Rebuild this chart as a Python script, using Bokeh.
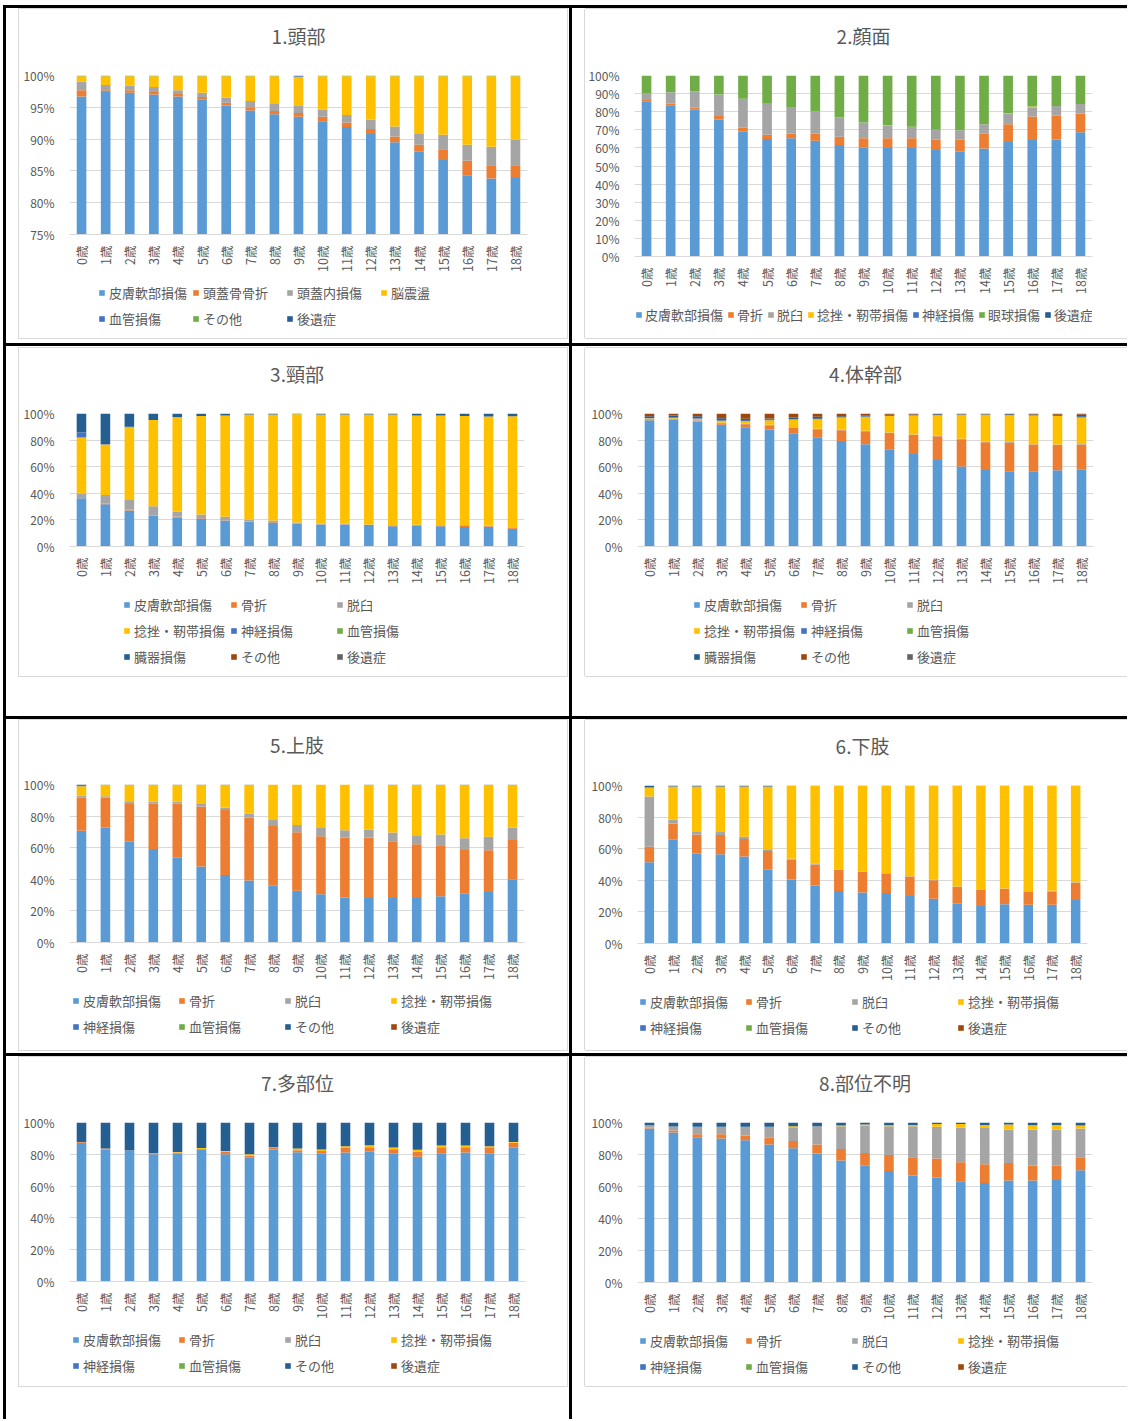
import math
from bokeh.plotting import figure
from bokeh.models import (ColumnDataSource, FactorRange, Range1d, FixedTicker, Legend, LegendItem,
                          Spacer, Label)
from bokeh.layouts import row, column
from bokeh.embed import file_html
from bokeh.resources import INLINE

FONT = "Noto Sans CJK JP"
TEXT = "#595959"
GRID = "#D9D9D9"

ages = ["0歳", "1歳", "2歳", "3歳", "4歳", "5歳", "6歳", "7歳", "8歳", "9歳",
        "10歳", "11歳", "12歳", "13歳", "14歳", "15歳", "16歳", "17歳", "18歳"]

zeros = [0, 0, 0, 0, 0, 0, 0, 0, 0, 0, 0, 0, 0, 0, 0, 0, 0, 0, 0]

BLUE, ORANGE, GRAY, GOLD = "#5B9BD5", "#ED7D31", "#A5A5A5", "#FFC000"
DBLUE, GREEN, NAVY, BROWN, DGRAY = "#4472C4", "#70AD47", "#255E91", "#9E480E", "#636363"

# ---------- 1.頭部 (%) ----------
h_names = ["皮膚軟部損傷", "頭蓋骨骨折", "頭蓋内損傷", "脳震盪", "血管損傷", "その他", "後遺症"]
h_skin = [96.7, 97.4, 97.3, 97.0, 96.7, 96.2, 95.3, 94.5, 93.9, 93.5, 92.8, 91.9, 90.8, 89.5, 88.0, 86.7, 84.3, 83.8, 83.9]
h_skullfx = [1.0, 0.3, 0.4, 0.4, 0.4, 0.4, 0.4, 0.5, 0.5, 0.6, 0.7, 0.7, 0.8, 0.9, 1.1, 1.7, 2.3, 2.1, 2.0]
h_intra = [1.3, 0.8, 0.7, 0.8, 0.6, 0.7, 0.8, 1.0, 1.1, 1.1, 1.1, 1.2, 1.5, 1.6, 1.7, 2.3, 2.5, 2.9, 4.0]
h_concussion = [0.9, 1.4, 1.5, 1.7, 2.2, 2.6, 3.4, 3.9, 4.4, 4.6, 5.3, 6.1, 6.8, 7.9, 9.1, 9.2, 10.8, 11.1, 10.0]
h_vasc = [0, 0, 0, 0, 0, 0, 0, 0, 0, 0.2, 0, 0, 0, 0, 0, 0, 0, 0, 0]
h_other = [0.1, 0.1, 0.1, 0.1, 0.1, 0.1, 0.1, 0.1, 0.1, 0, 0.1, 0.1, 0.1, 0.1, 0.1, 0.1, 0.1, 0.1, 0.1]
h_seq = zeros

# ---------- 2.顔面 ----------
f_names = ["皮膚軟部損傷", "骨折", "脱臼", "捻挫・靭帯損傷", "神経損傷", "眼球損傷", "後遺症"]
f_skin = [85.8, 83.6, 81.1, 75.7, 68.9, 64.9, 65.3, 64.0, 61.6, 60.1, 59.9, 59.9, 58.8, 57.9, 59.7, 63.2, 64.3, 64.7, 68.6]
f_fx = [0.6, 0.8, 1.1, 1.9, 2.2, 2.4, 2.7, 3.8, 4.6, 5.2, 5.4, 5.4, 5.7, 6.6, 8.1, 9.8, 13.1, 13.1, 10.4]
f_disl = [4.0, 6.4, 9.0, 11.9, 16.0, 17.1, 14.2, 12.5, 10.6, 8.8, 6.8, 6.4, 5.5, 5.2, 5.2, 5.7, 5.0, 5.3, 5.2]
f_sprain = [0, 0, 0, 0, 0, 0, 0, 0, 0, 0, 0.5, 0, 0, 0, 0, 0.4, 0.5, 0, 0]
f_nerve = zeros
f_eye = [9.6, 9.2, 8.8, 10.5, 12.9, 15.6, 17.8, 19.7, 23.2, 25.9, 27.4, 28.3, 30.0, 30.3, 27.0, 20.9, 17.1, 16.9, 15.8]
f_seq = zeros

# ---------- 3.頸部 ----------
n_names = ["皮膚軟部損傷", "骨折", "脱臼", "捻挫・靭帯損傷", "神経損傷", "血管損傷", "臓器損傷", "その他", "後遺症"]
n_skin = [36.2, 31.7, 27.1, 22.9, 21.6, 21.1, 19.1, 18.6, 18.1, 17.3, 16.6, 16.6, 16.1, 15.3, 15.8, 15.3, 14.6, 14.6, 13.3]
n_fx = [0.0, 0.7, 0.8, 0.2, 1.0, 0.3, 0.3, 0.2, 0.3, 0.2, 0.2, 0.2, 0.2, 0.5, 0.3, 0.5, 1.2, 0.7, 0.8]
n_disl = [3.2, 6.3, 7.0, 7.1, 3.5, 2.7, 3.0, 1.3, 1.2, 0.6, 0.5, 0.3, 0.3, 0.3, 0.3, 0.3, 0.3, 0.5, 0.3]
n_sprain = [42.5, 37.9, 54.8, 65.0, 71.1, 74.1, 76.1, 79.1, 79.6, 81.4, 81.9, 82.1, 82.6, 83.1, 82.1, 82.4, 82.1, 81.9, 83.6]
n_nerve = [3.8, 0.2, 0.3, 0, 0.2, 0, 0, 0, 0, 0, 0, 0, 0, 0, 0, 0, 0, 0, 0]
n_vasc = [0, 0, 0, 0, 0, 0, 0, 0, 0, 0.2, 0, 0, 0, 0, 0, 0, 0, 0, 0]
n_organ = [14.3, 23.2, 10.0, 4.8, 2.5, 1.6, 1.3, 0.8, 0.8, 0.3, 0.8, 0.8, 0.8, 0.8, 1.5, 1.5, 1.8, 2.3, 2.0]
n_other = [0, 0, 0, 0, 0.1, 0.2, 0.2, 0, 0, 0, 0, 0, 0, 0, 0, 0, 0, 0, 0]
n_seq = zeros

# ---------- 4.体幹部 ----------
t_names = n_names
t_skin = [95.0, 95.5, 94.0, 91.5, 89.7, 87.9, 85.2, 82.2, 79.4, 76.9, 73.1, 69.6, 65.1, 60.1, 57.5, 56.5, 56.5, 57.3, 58.0]
t_fx = [0.6, 0.6, 0.8, 1.2, 2.3, 3.3, 4.2, 6.0, 8.0, 9.8, 12.3, 14.3, 17.8, 20.6, 20.9, 21.6, 20.1, 19.1, 18.6]
t_disl = [0.4, 0.2, 0.3, 0.4, 0.3, 0.3, 0.3, 0.3, 0.3, 0.3, 0.4, 0.3, 0.3, 0.3, 0.3, 0.5, 0.3, 0.3, 0.4]
t_sprain = [0.4, 0.4, 1.0, 1.4, 1.9, 3.5, 5.8, 7.2, 9.3, 10.5, 12.4, 14.3, 15.5, 18.0, 20.3, 20.1, 21.6, 21.5, 20.0]
t_nerve = [0.3, 0.3, 0.4, 0.3, 0.3, 0.3, 0.3, 0.3, 0.2, 0.2, 0.2, 0.2, 0.2, 0.1, 0.1, 0.1, 0.1, 0.1, 0.5]
t_vasc = zeros
t_organ = [1.3, 1.5, 1.5, 1.7, 1.5, 1.0, 1.2, 1.5, 0.8, 0.7, 0.6, 0.5, 0.5, 0.3, 0.3, 0.6, 0.7, 0.8, 1.5]
t_other = [2.0, 1.5, 2.0, 3.5, 4.0, 3.7, 3.0, 2.5, 2.0, 1.6, 1.0, 0.8, 0.6, 0.3, 0.3, 0.6, 0.7, 0.9, 1.0]
t_seq = [0, 0, 0, 0, 0, 0, 0, 0, 0, 0, 0, 0, 0, 0.3, 0.3, 0, 0, 0, 0]

# ---------- 5.上肢 ----------
u_names = ["皮膚軟部損傷", "骨折", "脱臼", "捻挫・靭帯損傷", "神経損傷", "血管損傷", "その他", "後遺症"]
u_skin = [70.7, 72.8, 63.7, 59.1, 53.6, 48.1, 42.8, 39.2, 35.9, 32.7, 30.6, 28.5, 28.1, 28.1, 28.1, 29.3, 30.8, 31.9, 39.7]
u_fx = [20.9, 18.8, 23.9, 28.9, 34.4, 38.0, 41.0, 39.7, 37.9, 37.1, 36.7, 38.0, 38.4, 36.0, 34.1, 32.3, 27.8, 26.5, 25.1]
u_disl = [1.4, 1.0, 1.4, 1.2, 1.2, 1.5, 1.6, 2.7, 3.8, 4.5, 5.1, 4.6, 5.0, 5.5, 5.7, 6.8, 7.4, 8.5, 8.0]
u_sprain = [5.9, 7.2, 10.8, 10.6, 10.6, 12.2, 14.4, 18.2, 22.4, 25.7, 27.6, 28.9, 28.3, 30.2, 31.9, 31.4, 33.8, 32.9, 27.0]
u_nerve = [0.3, 0, 0, 0, 0, 0, 0, 0, 0, 0, 0, 0, 0, 0, 0, 0, 0, 0, 0]
u_vasc = zeros
u_other = [0.8, 0.2, 0.2, 0.2, 0.2, 0.2, 0.2, 0.2, 0, 0, 0, 0, 0.2, 0.2, 0.2, 0.2, 0.2, 0.2, 0.2]
u_seq = zeros

# ---------- 6.下肢 ----------
l_names = u_names
l_skin = [51.5, 65.6, 56.8, 56.5, 55.1, 46.6, 40.5, 36.7, 33.3, 32.3, 31.9, 30.0, 28.3, 25.1, 23.8, 24.9, 24.5, 24.5, 27.6]
l_fx = [9.7, 10.3, 12.2, 12.1, 11.1, 12.0, 12.5, 13.3, 13.3, 13.1, 12.4, 12.4, 11.8, 10.8, 10.2, 9.7, 8.4, 8.4, 10.8]
l_disl = [31.8, 2.4, 1.5, 1.9, 1.3, 1.1, 0.6, 0.4, 0.2, 0.2, 0.3, 0.2, 0.2, 0.2, 0.3, 0.2, 0.4, 0.5, 0.4]
l_sprain = [5.7, 21.1, 28.9, 28.9, 31.9, 39.7, 46.2, 49.4, 53.0, 54.2, 55.2, 57.2, 59.5, 63.7, 65.5, 65.0, 66.5, 66.4, 61.0]
l_nerve = zeros
l_vasc = zeros
l_other = [1.3, 0.6, 0.6, 0.6, 0.6, 0.6, 0.2, 0.2, 0.2, 0.2, 0.2, 0.2, 0.2, 0.2, 0.2, 0.2, 0.2, 0.2, 0.2]
l_seq = zeros

# ---------- 7.多部位 ----------
m_names = u_names
m_skin = [87.2, 83.0, 82.2, 80.1, 80.7, 82.8, 80.1, 78.2, 83.0, 81.3, 80.3, 81.1, 81.6, 80.3, 78.4, 80.7, 81.1, 80.3, 84.1]
m_fx = [0.6, 0.6, 0.1, 0.4, 0.4, 0.5, 1.7, 1.0, 1.1, 1.3, 1.7, 2.8, 2.9, 2.9, 3.2, 3.8, 3.4, 4.2, 3.1]
m_disl = [0, 0, 0.1, 0, 0, 0, 0, 0, 0.2, 0, 0, 0, 0, 0, 0, 0, 0, 0, 0]
m_sprain = [0, 0, 0, 0.2, 0.3, 0.6, 0.2, 0.9, 0.2, 1.0, 1.0, 1.2, 1.2, 1.1, 1.2, 1.0, 1.0, 0.6, 0.6]
m_nerve = zeros
m_vasc = zeros
m_other = [12.2, 16.4, 17.6, 19.3, 18.6, 16.1, 18.0, 19.9, 15.5, 16.4, 17.0, 14.9, 14.3, 15.7, 17.2, 14.5, 14.5, 14.9, 12.2]
m_seq = zeros

# ---------- 8.部位不明 ----------
x_names = u_names
x_skin = [96.2, 93.7, 90.8, 90.0, 88.9, 86.2, 83.9, 80.6, 76.2, 72.9, 69.7, 66.8, 65.6, 63.3, 62.2, 63.7, 63.7, 64.1, 70.1]
x_fx = [0.7, 1.3, 1.9, 2.7, 3.0, 4.2, 4.6, 5.6, 7.3, 8.1, 10.0, 11.5, 11.9, 11.9, 11.7, 11.0, 9.4, 9.0, 8.2]
x_disl = [1.4, 2.5, 4.6, 4.6, 5.4, 6.9, 8.6, 11.5, 14.2, 17.1, 18.0, 19.4, 19.8, 21.7, 22.6, 20.9, 22.3, 22.5, 17.9]
x_sprain = [0, 0, 0, 0, 0, 0, 0.6, 0, 0.4, 0.6, 0.6, 0.8, 1.7, 2.1, 2.0, 3.1, 2.9, 2.9, 1.9]
x_nerve = zeros
x_vasc = zeros
x_other = [1.7, 2.5, 2.7, 2.7, 2.7, 2.7, 2.3, 2.3, 1.9, 1.3, 1.7, 1.5, 1.0, 1.0, 1.5, 1.3, 1.7, 1.5, 1.9]
x_seq = zeros

ticks_25 = [75, 80, 85, 90, 95, 100]
ticks_10 = [0, 10, 20, 30, 40, 50, 60, 70, 80, 90, 100]
ticks_20 = [0, 20, 40, 60, 80, 100]

SHADOW_L = "0 0 0 1px #D9D9D9"
SHADOW_R = "-1px 0 0 0 #D9D9D9, 0 -1px 0 0 #D9D9D9, 0 1px 0 0 #D9D9D9"

AXIS_BAND = 40      # space kept under the plot area for the rotated age labels
ITEM_H = 21
ITEM_GAP = 5
TITLE_H = 50        # height of the title strip above each chart
TITLE_GAP = 40      # title centre above the plot area, px


def strip(w, h):
    s = figure(width=w, height=h, x_range=Range1d(0, 1), y_range=Range1d(0, 1),
               output_backend="svg", toolbar_location=None, tools="",
               x_axis_type=None, y_axis_type=None, min_border=0,
               min_border_left=0, min_border_right=0, min_border_top=0, min_border_bottom=0)
    s.grid.visible = False
    s.outline_line_color = None
    s.background_fill_color = "white"
    s.border_fill_color = "white"
    return s


def panel(title, names, values, colors, yticks, ystart, w, frame_h, top, plot_h, left, right,
          outer_margin, shadow, leg_x, ncols, label_width, spacing=ITEM_GAP, standoff=4):
    # title strip
    tf = strip(w, TITLE_H)
    tf.add_layout(Label(x=0.5, y=1 - (top - TITLE_GAP) / TITLE_H, text=title, text_align="center",
                        text_baseline="middle", text_font=FONT, text_font_size="19px",
                        text_color=TEXT))

    data = {"age": ages}
    keys = []
    for i, v in enumerate(values):
        data["s%d" % i] = v
        keys.append("s%d" % i)
    src = ColumnDataSource(data)
    ptop = top - TITLE_H
    chart_h = ptop + plot_h + AXIS_BAND
    p = figure(x_range=FactorRange(factors=ages), y_range=Range1d(ystart, 100),
               width=w, height=chart_h, output_backend="svg", toolbar_location=None, tools="",
               min_border_top=ptop, min_border_bottom=AXIS_BAND, min_border_left=left,
               min_border_right=right)
    rs = p.vbar_stack(keys, x="age", width=0.4, source=src, fill_color=colors, line_color=None)
    p.background_fill_color = "white"
    p.border_fill_color = "white"
    p.outline_line_color = None

    p.xgrid.grid_line_color = None
    p.ygrid.grid_line_color = GRID
    p.yaxis.ticker = FixedTicker(ticks=yticks)
    p.yaxis.major_label_overrides = {t: "%d%%" % t for t in yticks}
    p.yaxis.axis_line_color = None
    p.yaxis.major_tick_line_color = None
    p.yaxis.minor_tick_line_color = None
    p.yaxis.major_label_standoff = 9
    p.yaxis.major_label_text_font = FONT
    p.yaxis.major_label_text_font_size = "12px"
    p.yaxis.major_label_text_color = TEXT

    p.xaxis.axis_line_color = GRID
    p.xaxis.major_tick_line_color = None
    p.xaxis.minor_tick_line_color = None
    p.xaxis.major_label_orientation = math.pi / 2
    p.xaxis.major_label_standoff = 5
    p.xaxis.major_label_text_font = FONT
    p.xaxis.major_label_text_font_size = "12.5px"
    p.xaxis.major_label_text_color = TEXT

    # legend strip under the chart (its frame lines up with the chart's plot area)
    leg_h = frame_h - TITLE_H - chart_h
    lf = strip(w, leg_h)
    items = []
    for n, c in zip(names, colors):
        # swatch-only renderer, kept outside the visible range
        r = lf.vbar(x=[-5], top=[-5], bottom=[-6], width=0.4, fill_color=c, line_color=None)
        items.append(LegendItem(label=n, renderers=[r]))
    cols = ncols if ncols else len(names)
    rows = -(-len(names) // cols)
    block_h = rows * ITEM_H + (rows - 1) * spacing
    first_top = 58 - AXIS_BAND - ITEM_H / 2.0
    leg_y = leg_h - first_top - block_h
    kw = {}
    if ncols:
        kw["ncols"] = ncols
    leg = Legend(items=items, orientation="horizontal", location=(leg_x, leg_y), margin=0, padding=0,
                 spacing=spacing, label_standoff=standoff, glyph_width=7, glyph_height=7,
                 label_width=label_width, label_height=ITEM_H,
                 label_text_font=FONT, label_text_font_size="13px", label_text_color=TEXT,
                 border_line_color=None, background_fill_alpha=0, **kw)
    lf.add_layout(leg, "center")

    inner = column(tf, p, lf, margin=outer_margin, styles={"box-shadow": shadow})
    return inner


c7a = [BLUE, ORANGE, GRAY, GOLD, DBLUE, GREEN, NAVY]
c9 = [BLUE, ORANGE, GRAY, GOLD, DBLUE, GREEN, NAVY, BROWN, DGRAY]
c8 = [BLUE, ORANGE, GRAY, GOLD, DBLUE, GREEN, NAVY, BROWN]

# (title, names, values, colours, yticks, ystart, width, frame_h, top, plot_h, left, right, margin, shadow, legend_x, ncols, label_width)
p1 = panel("1.頭部", h_names, [h_skin, h_skullfx, h_intra, h_concussion, h_vasc, h_other, h_seq], c7a,
           ticks_25, 75, 548, 329, 66, 159, 50, 40, (1, 2, 5, 13), SHADOW_L, 29, 4, 78)
p2 = panel("2.顔面", f_names, [f_skin, f_fx, f_disl, f_sprain, f_nerve, f_eye, f_seq], c7a,
           ticks_10, 0, 542, 329, 66, 181, 42, 35, (1, 0, 5, 13), SHADOW_R, 1, None, 20, 4, 3)
p3 = panel("3.頸部", n_names, [n_skin, n_fx, n_disl, n_sprain, n_nerve, n_vasc, n_organ, n_other, n_seq], c9,
           ticks_20, 0, 548, 328, 65, 133, 50, 43, (2, 2, 40, 13), SHADOW_L, 54, 3, 90)
p4 = panel("4.体幹部", t_names, [t_skin, t_fx, t_disl, t_sprain, t_nerve, t_vasc, t_organ, t_other, t_seq], c9,
           ticks_20, 0, 542, 328, 65, 133, 52, 34, (2, 0, 40, 13), SHADOW_R, 56, 3, 90)
p5 = panel("5.上肢", u_names, [u_skin, u_fx, u_disl, u_sprain, u_nerve, u_vasc, u_other, u_seq], c8,
           ticks_20, 0, 548, 330, 64, 158, 50, 43, (1, 2, 3, 13), SHADOW_L, 3, 4, 90)
p6 = panel("6.下肢", l_names, [l_skin, l_fx, l_disl, l_sprain, l_nerve, l_vasc, l_other, l_seq], c8,
           ticks_20, 0, 542, 330, 65, 158, 52, 40, (1, 0, 3, 13), SHADOW_R, 2, 4, 90)
p7 = panel("7.多部位", m_names, [m_skin, m_fx, m_disl, m_sprain, m_nerve, m_vasc, m_other, m_seq], c8,
           ticks_20, 0, 548, 329, 65, 159, 50, 42, (1, 2, 33, 13), SHADOW_L, 3, 4, 90)
p8 = panel("8.部位不明", x_names, [x_skin, x_fx, x_disl, x_sprain, x_nerve, x_vasc, x_other, x_seq], c8,
           ticks_20, 0, 542, 329, 65, 160, 52, 35, (1, 0, 33, 13), SHADOW_R, 2, 4, 90)


def cell(p):
    return column(p, styles={"background-color": "white"})


def grid_row(a, b, hgt):
    return row(Spacer(width=0, height=hgt), cell(a), cell(b), spacing=3)


page = column(Spacer(width=1124, height=0),
              grid_row(p1, p2, 335), grid_row(p3, p4, 370),
              grid_row(p5, p6, 334), grid_row(p7, p8, 363),
              spacing=3,
              styles={"background-color": "black", "margin-left": "3px", "margin-top": "5px"})

open("out.html", "w").write(file_html(page, INLINE, title="injury"))
